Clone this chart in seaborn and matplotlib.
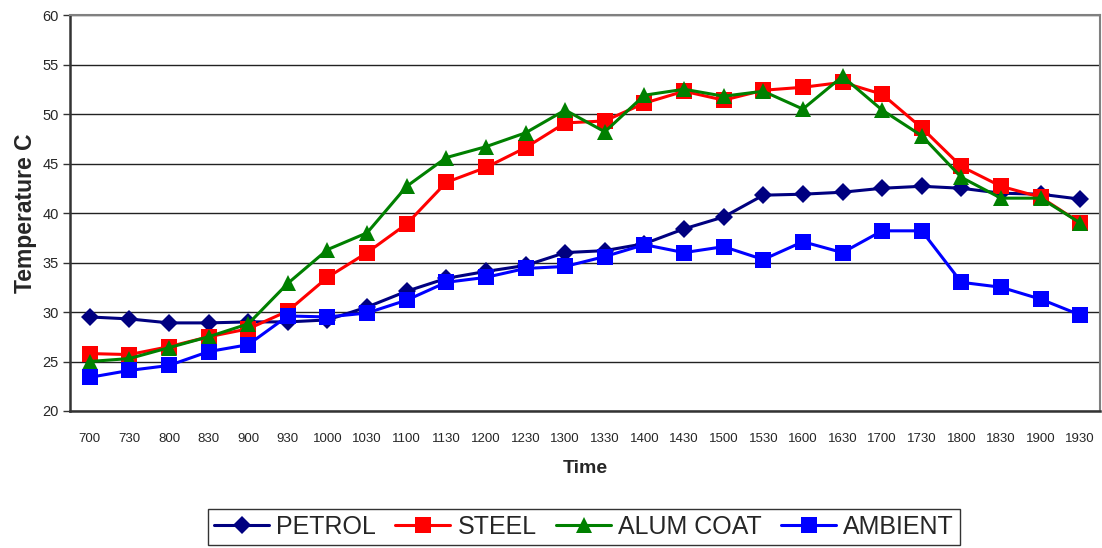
import matplotlib
matplotlib.use("Agg")
from matplotlib import pyplot as plt
import pandas as pd
import seaborn as sns

times = ["700", "730", "800", "830", "900", "930", "1000", "1030", "1100", "1130",
         "1200", "1230", "1300", "1330", "1400", "1430", "1500", "1530", "1600", "1630",
         "1700", "1730", "1800", "1830", "1900", "1930"]

petrol = [29.5, 29.3, 28.9, 28.9, 29.0, 29.0, 29.2, 30.5, 32.1, 33.4,
          34.1, 34.7, 36.0, 36.2, 36.9, 38.4, 39.6, 41.8, 41.9, 42.1,
          42.5, 42.7, 42.5, 42.0, 41.9, 41.4]
steel = [25.8, 25.7, 26.5, 27.5, 28.3, 30.1, 33.5, 36.0, 38.9, 43.1,
         44.6, 46.6, 49.1, 49.3, 51.1, 52.3, 51.4, 52.4, 52.7, 53.2,
         52.0, 48.6, 44.7, 42.7, 41.6, 39.0]
alum_coat = [25.0, 25.3, 26.4, 27.5, 28.8, 32.9, 36.3, 38.0, 42.7, 45.6,
             46.7, 48.1, 50.4, 48.2, 51.9, 52.5, 51.8, 52.3, 50.5, 53.8,
             50.4, 47.8, 43.6, 41.5, 41.5, 39.0]
ambient = [23.4, 24.1, 24.6, 26.0, 26.7, 29.6, 29.5, 29.9, 31.2, 33.0,
           33.5, 34.4, 34.6, 35.6, 36.8, 36.0, 36.6, 35.3, 37.1, 36.0,
           38.2, 38.2, 33.0, 32.5, 31.3, 29.7]

series = ["PETROL", "STEEL", "ALUM COAT", "AMBIENT"]
colors = {"PETROL": "#000080", "STEEL": "#FF0000", "ALUM COAT": "#008000", "AMBIENT": "#0000FF"}
markers = {"PETROL": "D", "STEEL": "s", "ALUM COAT": "^", "AMBIENT": "s"}
msizes = {"PETROL": 9.5, "STEEL": 11, "ALUM COAT": 12, "AMBIENT": 11}

df = pd.DataFrame({"Time": times, "PETROL": petrol, "STEEL": steel,
                   "ALUM COAT": alum_coat, "AMBIENT": ambient})
df["pos"] = range(len(times))

sns.set_style("white")
plt.rcParams['font.family'] = ['Liberation Sans', 'DejaVu Sans']

fig = plt.figure(figsize=(11.02, 5.48), dpi=100)
ax = fig.add_axes([0.0635, 0.25, 0.9347, 0.7226])

for s in series:
    sns.lineplot(data=df, x="pos", y=s, ax=ax, color=colors[s], marker=markers[s],
                 markersize=msizes[s], markeredgecolor=colors[s], markeredgewidth=0,
                 linewidth=2.2, label=s)

ax.set_xlim(-0.5, len(times) - 0.5)
ax.set_ylim(20, 60)
ax.set_yticks(range(20, 61, 5))
ax.set_xticks(range(len(times)))
ax.set_xticklabels(times, fontsize=9.5)
ax.set_xticks([i - 0.5 for i in range(len(times) + 1)], minor=True)
ax.tick_params(axis="x", which="major", length=0, pad=16)
ax.tick_params(axis="x", which="minor", length=5, width=1, color="#333333", direction="out")
ax.tick_params(axis="y", length=5, width=1, color="#333333", direction="out", labelsize=10.5, pad=3)
ax.tick_params(left=True, bottom=True)
ax.yaxis.grid(True, color="#222222", linewidth=1)
ax.set_axisbelow(True)

for side in ["top", "right"]:
    ax.spines[side].set_color("#808080")
    ax.spines[side].set_linewidth(1.5)
ax.spines["left"].set_color("#333333")
ax.spines["left"].set_linewidth(1.8)
ax.spines["bottom"].set_color("#333333")
ax.spines["bottom"].set_linewidth(1.8)

ax.set_xlabel("Time", fontsize=14, fontweight="bold")
ax.set_ylabel("Temperature C", fontsize=16.5, fontweight="bold")
ax.xaxis.set_label_coords(0.5, -0.123)
ax.yaxis.set_label_coords(-0.0325, 0.5)

handles, labels = ax.get_legend_handles_labels()
ax.get_legend().remove()
leg = fig.legend(handles, labels, loc="center", bbox_to_anchor=(0.53, 0.038), ncol=4,
                 fontsize=18, frameon=True, fancybox=False, shadow=False, handlelength=2.2,
                 handletextpad=0.28, columnspacing=0.78, borderpad=0.25, borderaxespad=0,
                 edgecolor="#000000")
leg.get_frame().set_linewidth(1)

fig.savefig("out.png", dpi=100)
